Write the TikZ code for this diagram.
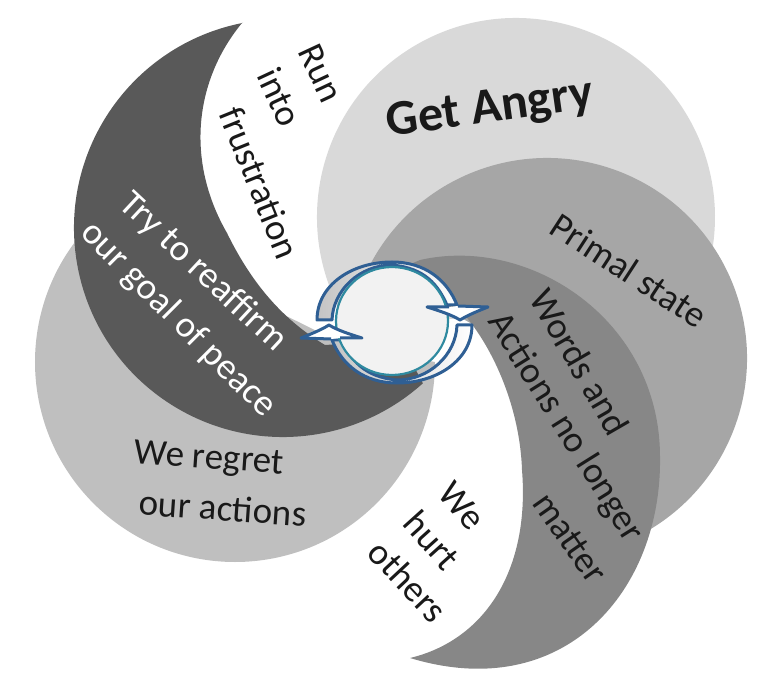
\documentclass[tikz,border=0pt]{standalone}
\usepackage{fontspec}
\setmainfont{Carlito}
\definecolor{cLight}{HTML}{D9D9D9}
\definecolor{cMid}{HTML}{A6A6A6}
\definecolor{cLow}{HTML}{BFBFBF}
\definecolor{cDark}{HTML}{595959}
\definecolor{cBand}{HTML}{878787}
\definecolor{cBlue}{HTML}{2F5F94}
\definecolor{cTeal}{HTML}{2F8AA0}
\definecolor{cDisc}{HTML}{F2F2F2}
\definecolor{cTail}{HTML}{C4C4C4}
\tikzset{
  lbl/.style={font=\fontsize{37}{37}\selectfont,text=black!90,inner sep=0pt},
  lblw/.style={lbl,text=white},
  spinarrow/.style={draw=cBlue,line width=3pt,line join=round,left color=cTail,middle color=white,right color=white},
  headfill/.style={fill=white},
  headline/.style={draw=cBlue,line width=3pt,line join=round}
}
\newcommand{\spinbody}{(317,320) .. controls (317,285) and (352,262) .. (392,262) .. controls (425,262) and (447,280) .. (457,305) -- (447,305) .. controls (438,285) and (425,268) .. (392,265) .. controls (360,265) and (333,290) .. (332,320) -- cycle}
\newcommand{\spinhead}{(449,307) -- (427,307) .. controls (440,311) and (452,315) .. (460,320) .. controls (468,315) and (478,311) .. (488,307) -- (458,306)}
\begin{document}
\begin{tikzpicture}[x=1pt,y=1pt,yscale=-1]
\useasboundingbox (0,0) rectangle (768,700);
% disc: Get Angry
\fill[cLight] (516,217) ++(150:199pt) arc[start angle=150,end angle=375,radius=199pt] -- (500,320) -- cycle;
% disc: Primal state (cut on its lower left)
\fill[cMid] (547,358) ++(205:200pt) arc[start angle=205,end angle=420,radius=200pt] -- (560,480) -- (500,340) -- (430,300) -- cycle;
% disc: We regret
\fill[cLow] (235,362) ++(225:200pt) arc[start angle=225,end angle=0,radius=200pt] -- (345,345) -- cycle;
% band: Words and actions
\fill[cBand] (385,275) -- (420,260) .. controls (530,235) and (660,320) .. (660,457) .. controls (662,590) and (565,705) .. (410,658)
  .. controls (485,640) and (530,570) .. (522,470) .. controls (520,410) and (495,350) .. (463,313) -- (400,320) -- cycle;
% band: Try to reaffirm
\fill[cDark] (283,228) ++(259:209pt) arc[start angle=259,end angle=48,radius=209pt] -- (400,340) -- (325,345)
  .. controls (280,318) and (250,280) .. (227,233) .. controls (185,160) and (195,80) .. (242,23) -- cycle;
% centre spinner
\path[spinarrow] \spinbody;
\begin{scope}[rotate around={180:(394.5,322.5)}]
\path[spinarrow] \spinbody;
\end{scope}
\filldraw[draw=cTeal,fill=cDisc,line width=2.2pt] (392,321) ellipse[x radius=56pt,y radius=54pt];
\path[headfill] \spinhead -- cycle;
\path[headline] \spinhead;
\begin{scope}[rotate around={180:(394.5,322.5)}]
\path[headfill] \spinhead -- cycle;
\path[headline] \spinhead;
\end{scope}
% labels
\node[lbl,font=\fontsize{50}{50}\selectfont\bfseries,rotate=8] (angry) at (490,110) {Get Angry};
\node[lbl,rotate=-33] (primal) at (629,270) {Primal state};
\node[lbl,rotate=-60] (words1) at (580,362) {Words and};
\node[lbl,rotate=-58] (words2) at (565,428) {Actions no longer};
\node[lbl,rotate=-55] (words3) at (570,538) {matter};
\node[lbl,rotate=-50] (hurt1) at (462,506) {We};
\node[lbl,rotate=-48] (hurt2) at (432,540) {hurt};
\node[lbl,rotate=-47] (hurt3) at (408,581) {others};
\node[lbl,rotate=-4] (regret1) at (209,460) {We regret};
\node[lbl,rotate=-4] (regret2) at (223,508) {our actions};
\node[lblw,rotate=-43] (try1) at (203,272) {Try to reaffirm};
\node[lblw,rotate=-45] (try2) at (178,320) {our goal of peace};
\node[lbl,rotate=-65] (run1) at (321,73) {Run};
\node[lbl,rotate=-65] (run2) at (280,97) {into};
\node[lbl,rotate=-68] (run3) at (260,183) {frustration};
\end{tikzpicture}
\end{document}
